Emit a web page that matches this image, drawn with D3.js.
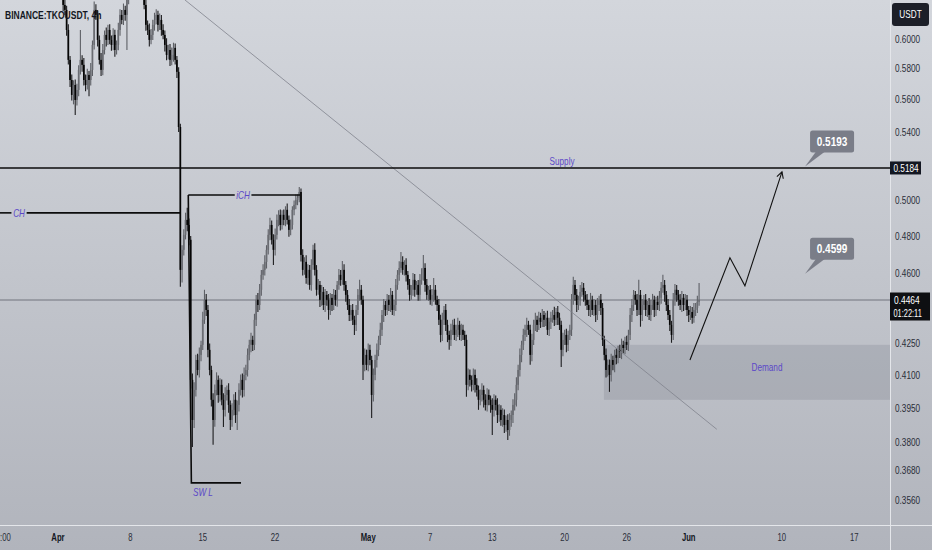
<!DOCTYPE html>
<html><head><meta charset="utf-8">
<script src="https://cdn.jsdelivr.net/npm/d3@7"></script>
<style>html,body{margin:0;padding:0;overflow:hidden;background:#c5c8cf}svg{display:block}</style>
</head><body><svg id="c" width="932" height="550"></svg>
<script>
// ---------------- DATA ----------------
const symbolTitle = "BINANCE:TKOUSDT, 4h";
const quoteCurrency = "USDT";
const firstCandleTime = Date.UTC(2024, 3, 1, 0, 0);   // 1 Apr 2024 00:00 UTC
const candleHours = 4;
const firstOpen = .6310;
// 4h closes, 1 Apr -> 2 Jun
const closes = [
.6378,.6450,.6342,.6235,.6200,.6061,.5859,.5727,.5631,.5695,
.5599,.5663,.5793,.5859,.5826,.5727,.5695,.5760,.5727,.5793,
.5959,.6200,.6165,.5993,.5859,.5793,.5925,.6027,.5993,.6061,
.5993,.5959,.6027,.5925,.5959,.6061,.6165,.6130,.6200,.6165,
.6270,.6342,.6414,.6450,.6487,.6450,.6487,.6414,.6378,.6342,
.6235,.6096,.6061,.5993,.6027,.6096,.6130,.6165,.6096,.6130,
.6061,.6027,.5959,.5892,.5925,.5859,.5892,.5939,.5859,.5780,
.5430,.4619,.4725,.4806,.4888,.4860,.4779,.4078,.3897,.4032,
.4171,.4124,.4195,.4243,.4365,.4465,.4414,.4219,.4124,.3987,
.3897,.4032,.4078,.4009,.4055,.3987,.3942,.4009,.4032,.3964,
.3897,.3942,.3987,.3919,.3964,.4032,.4078,.4032,.4101,.4124,
.4195,.4243,.4267,.4243,.4365,.4465,.4439,.4516,.4593,.4619,
.4661,.4725,.4806,.4860,.4779,.4725,.4806,.4888,.4916,.4860,
.4916,.4888,.4944,.4888,.4833,.4860,.4944,.4972,.5000,.5011,
.5045,.4698,.4619,.4661,.4577,.4619,.4541,.4645,.4725,.4619,
.4516,.4541,.4465,.4505,.4439,.4490,.4465,.4414,.4475,.4439,
.4490,.4465,.4541,.4593,.4567,.4619,.4541,.4490,.4439,.4389,
.4414,.4365,.4340,.4414,.4490,.4516,.4465,.4148,.4195,.4148,
.4219,.4171,.4009,.4101,.4171,.4219,.4267,.4316,.4389,.4439,
.4414,.4465,.4439,.4490,.4414,.4439,.4541,.4593,.4629,.4661,
.4619,.4645,.4593,.4541,.4490,.4516,.4567,.4516,.4541,.4490,
.4567,.4593,.4629,.4541,.4490,.4516,.4465,.4490,.4516,.4465,
.4439,.4365,.4291,.4365,.4414,.4340,.4291,.4267,.4316,.4340,
.4291,.4316,.4340,.4291,.4316,.4291,.4267,.4055,.4101,.4078,
.4055,.4101,.4055,.4032,.3987,.4009,.4032,.3987,.3964,.4009,
.3987,.3964,.3942,.3987,.3964,.3919,.3942,.3897,.3919,.3875,
.3897,.3853,.3897,.3919,.3964,.3987,.4055,.4124,.4195,.4243,
.4291,.4316,.4340,.4316,.4195,.4267,.4340,.4365,.4340,.4375,
.4355,.4389,.4365,.4375,.4316,.4355,.4375,.4389,.4365,.4404,
.4375,.4340,.4219,.4267,.4291,.4243,.4291,.4316,.4465,.4541,
.4490,.4439,.4465,.4505,.4526,.4490,.4465,.4439,.4414,.4465,
.4414,.4439,.4389,.4439,.4465,.4424,.4267,.4195,.4124,.4148,
.4101,.4171,.4148,.4195,.4181,.4219,.4210,.4243,.4228,.4257,
.4243,.4291,.4389,.4439,.4490,.4465,.4414,.4490,.4389,.4439,
.4465,.4414,.4439,.4389,.4439,.4465,.4414,.4455,.4439,.4475,
.4526,.4541,.4490,.4439,.4389,.4340,.4291,.4465,.4516,.4490,
.4465,.4439,.4475,.4439,.4465,.4414,.4389,.4404,.4375,.4414,
.4424,.4455,.4464];
// wick above body / below body, in 0.0001 price units
const wickUp = [
40,30,50,35,45,30,40,25,35,30, 35,40,30,202,30,45,35,40,25,45,
30,60,40,35,30,45,40,30,50,35, 40,30,45,35,30,50,40,35,45,30,
50,40,35,45,30,40,35,50,40,45, 40,35,30,45,40,35,50,40,30,45,
35,40,30,45,35,40,50,35,30,25, 30,20,25,30,40,67,35,20,30,35,
25,30,35,20,40,51,30,25,30,20, 30,25,35,20,30,25,30,35,20,30,
20,30,25,35,20,30,25,30,35,25, 30,25,35,20,30,25,35,30,25,30,
35,25,30,40,25,30,35,30,25,30, 25,30,20,35,25,30,20,25,30,20,
29,20,30,25,35,30,25,30,27,35, 25,30,20,35,25,30,20,30,25,20,
30,25,20,30,25,47,30,20,25,30, 25,30,20,25,30,51,25,20,30,25,
30,25,20,30,25,30,20,35,25,30, 20,30,25,35,20,25,30,25,35,53,
30,25,35,20,30,25,35,30,20,25, 30,35,69,25,30,20,25,30,61,25,
20,30,25,35,20,30,25,20,30,25, 30,25,35,20,30,25,20,25,30,25,
20,30,25,30,20,25,30,20,25,30, 25,20,30,25,20,30,25,20,30,25,
20,25,30,20,25,30,35,25,30,20, 30,25,35,20,25,30,25,35,20,30,
25,30,20,25,35,20,30,25,41,20, 30,25,20,35,25,30,20,25,30,42,
25,30,20,35,30,25,20,30,25,35, 20,30,25,35,20,30,25,20,30,25,
25,30,20,25,30,20,25,30,20,25, 30,25,35,30,25,20,30,77,25,30,
25,30,20,35,25,30,20,25,30,35, 30,52,25,20,30,25,20,35,30,25,
25,30,35,20,30,25,20,30,25,35, 25,30,87];
const wickDown = [
35,40,30,45,35,40,30,45,35,60, 94,35,40,30,45,35,40,30,105,35,
40,30,35,45,30,40,35,30,45,35, 30,40,35,45,30,35,40,30,35,40,
240,30,40,35,30,40,35,30,45,35, 30,40,35,45,30,35,40,30,45,35,
40,30,45,35,30,40,35,45,30,40, 30,87,66,30,25,35,30,40,118,35,
30,25,35,30,25,20,30,35,25,30, 108,30,25,35,30,25,76,30,25,35,
44,30,25,35,66,30,25,35,30,25, 30,25,35,30,25,30,35,25,30,25,
30,35,25,30,25,80,30,25,35,30, 25,30,35,25,38,30,25,30,25,30,
25,35,30,25,30,35,25,30,25,30, 30,25,36,30,25,35,30,49,25,30,
25,30,35,25,30,25,30,35,25,30, 30,25,49,30,25,30,25,70,30,25,
30,25,103,30,25,35,30,25,30,35, 30,25,30,35,25,29,30,25,30,25,
25,30,35,25,30,25,30,35,25,30, 30,25,30,35,25,30,25,30,35,25,
30,25,35,30,25,30,35,48,30,25, 25,30,35,25,30,25,30,54,25,30,
30,25,35,30,45,25,30,35,25,30, 25,35,111,30,25,35,30,25,30,35,
30,43,25,30,35,25,30,25,30,35, 25,30,35,25,47,30,25,30,35,25,
30,25,35,30,25,30,35,25,30,25, 35,25,81,30,25,35,30,25,30,25,
30,35,25,30,25,35,30,25,30,35, 25,30,35,25,30,35,30,25,35,30,
78,30,25,35,30,25,30,35,25,30, 25,30,25,35,30,25,30,25,58,30,
25,30,35,25,30,25,35,30,25,30, 30,25,35,30,25,30,38,25,30,35,
30,25,35,30,25,30,35,25,30,25, 30,25,20];

const priceTicks = [0.6000,0.5800,0.5600,0.5400,0.5000,0.4800,0.4600,0.4250,0.4100,0.3950,0.3800,0.3680,0.3560];
const timeTickDates = [Date.UTC(2024,2,26,12),Date.UTC(2024,3,1),Date.UTC(2024,3,8),Date.UTC(2024,3,15),Date.UTC(2024,3,22),
  Date.UTC(2024,4,1),Date.UTC(2024,4,7),Date.UTC(2024,4,13),Date.UTC(2024,4,20),Date.UTC(2024,4,26),
  Date.UTC(2024,5,1),Date.UTC(2024,5,10),Date.UTC(2024,5,17)];
const timeTickLabels = ["12:00","Apr","8","15","22","May","7","13","20","26","Jun","10","17"];
const monthLabels = ["Apr","May","Jun"];

const supplyPrice = 0.5184;
const lastPrice = 0.4464;
const countdown = "01:22:11";
// drawings: [candle index, price]
const chLine = [[-40, 0.4927],[70.8, 0.4927]];
const ichLine = [[75.6, 0.5028],[140.4, 0.5028]];
const swlLine = [[75.6, 0.5028],[77.4, 0.3629],[106.2, 0.3629]];
const trendLine = [[73.7, 0.6270],[382.3, 0.3856]];
const demandZone = {startIndex: 316.8, top: 0.4243, bottom: 0.3987};
const projection = [[366.7, 0.4171],[389.9, 0.4683],[398.6, 0.4536],[420.1, 0.5161]];
const targets = [[433.5, 0.5193],[433.5, 0.4599]];
const textNotes = [
  {text:"CH",     idx:-22.6, price:0.4927, italic:true},
  {text:"iCH",    idx:107.4, price:0.5028, italic:true},
  {text:"SW L",   idx:84.1,  price:0.3592, italic:true},
  {text:"Supply", idx:292.5, price:0.5184, italic:false, above:true},
  {text:"Demand", idx:411.4, price:0.4137, italic:false}
];

// ---------------- LAYOUT ----------------
const W = 932, H = 550, plotW = 890, plotH = 525;
const FONT = "'Liberation Sans', Arial, sans-serif";
const LABEL = "#5b48c8";
const svg = d3.select("#c");
const defs = svg.append("defs");
const g0 = defs.append("linearGradient").attr("id","bg").attr("x1",0).attr("y1",0).attr("x2",0).attr("y2",1);
g0.append("stop").attr("offset","0%").attr("stop-color","#d3d6dc");
g0.append("stop").attr("offset","100%").attr("stop-color","#b1b4bc");
defs.append("clipPath").attr("id","plotclip").append("rect").attr("width",plotW).attr("height",plotH);
svg.append("rect").attr("width",W).attr("height",H).attr("fill","url(#bg)");

const candleMs = candleHours*3600*1000;
const tOf = i => new Date(firstCandleTime + i*candleMs);
const xS = d3.scaleUtc().domain([new Date(Date.UTC(2024,2,26,9,24)), new Date(Date.UTC(2024,5,20,11,8))]).range([0, plotW]);
const yS = d3.scaleLog().domain([0.6270, 0.3460]).range([0, plotH]);
const px = p => [xS(tOf(p[0])), yS(p[1])];

function squeeze(sel, k){
  sel.each(function(){
    const w = this.getComputedTextLength();
    if (w > 0){ this.setAttribute("textLength",(w*k).toFixed(1)); this.setAttribute("lengthAdjust","spacingAndGlyphs"); }
  });
}

const plot = svg.append("g").attr("clip-path","url(#plotclip)");

// demand zone
const dz0 = xS(tOf(demandZone.startIndex));
plot.append("rect").attr("x",dz0).attr("y",yS(demandZone.top)).attr("width",plotW-dz0)
  .attr("height",yS(demandZone.bottom)-yS(demandZone.top)).attr("fill","#6e7280").attr("fill-opacity",0.22);

// last price line
plot.append("line").attr("x1",0).attr("x2",plotW).attr("y1",yS(lastPrice)).attr("y2",yS(lastPrice))
  .attr("stroke","#5d606b").attr("stroke-width",0.8);

// candles
const candles = closes.map((c,i)=>{
  const o = i===0 ? firstOpen : closes[i-1];
  return {t:tOf(i), o, c, h:Math.max(o,c)+wickUp[i]/1e4, l:Math.min(o,c)-wickDown[i]/1e4};
});
const cg = plot.append("g");
cg.selectAll("line").data(candles).join("line")
  .attr("x1",d=>xS(d.t)).attr("x2",d=>xS(d.t)).attr("y1",d=>yS(d.h)).attr("y2",d=>yS(d.l))
  .attr("stroke",d=>d.c>=d.o?"#5e6066":"#1e1e20").attr("stroke-width",1.1);
cg.selectAll("rect").data(candles).join("rect")
  .attr("x",d=>xS(d.t)-0.85).attr("width",1.7)
  .attr("y",d=>yS(Math.max(d.o,d.c)))
  .attr("height",d=>Math.max(0.8, yS(Math.min(d.o,d.c))-yS(Math.max(d.o,d.c))))
  .attr("fill",d=>d.c>=d.o?"#6a6c72":"#050505");

// trend line
const line = d3.line().x(d=>px(d)[0]).y(d=>px(d)[1]);
plot.append("path").attr("d",line(trendLine)).attr("fill","none").attr("stroke","#80838d").attr("stroke-width",0.8);

// supply line
plot.append("line").attr("x1",0).attr("x2",plotW).attr("y1",yS(supplyPrice)).attr("y2",yS(supplyPrice))
  .attr("stroke","#0b0b0b").attr("stroke-width",1.6);

// text notes
const notes = plot.append("g");
const noteEls = textNotes.map(n=>{
  const [x,y] = px([n.idx,n.price]);
  const t = notes.append("text").attr("x",x).attr("y", n.above ? y-3 : y).attr("dy", n.above ? 0 : "0.35em")
    .attr("text-anchor","middle").attr("font-family",FONT).attr("font-size",10.5)
    .attr("font-style", n.italic?"italic":"normal").attr("fill",LABEL).text(n.text);
  squeeze(t, 0.78);
  return {n, x, w: t.node().getComputedTextLength()*0.78};
});
function gapLine(pts, gapX, gapW){
  const [a,b] = [px(pts[0]), px(pts[1])];
  const segs = [[a[0], gapX-gapW/2-3],[gapX+gapW/2+3, b[0]]];
  segs.forEach(s=>plot.append("line").attr("x1",s[0]).attr("x2",s[1]).attr("y1",a[1]).attr("y2",b[1])
    .attr("stroke","#0b0b0b").attr("stroke-width",1.6));
}
gapLine(chLine, noteEls[0].x, noteEls[0].w);
gapLine(ichLine, noteEls[1].x, noteEls[1].w);
plot.append("path").attr("d",line(swlLine)).attr("fill","none").attr("stroke","#0b0b0b").attr("stroke-width",1.6);

// projection path with arrow
plot.append("path").attr("d",line(projection)).attr("fill","none").attr("stroke","#111").attr("stroke-width",1.1);
{
  const p1 = px(projection[projection.length-2]), p2 = px(projection[projection.length-1]);
  const ang = Math.atan2(p2[1]-p1[1], p2[0]-p1[0]);
  const L = 7, s = 0.5;
  const a1 = [p2[0]-L*Math.cos(ang-s), p2[1]-L*Math.sin(ang-s)];
  const a2 = [p2[0]-L*Math.cos(ang+s), p2[1]-L*Math.sin(ang+s)];
  plot.append("path").attr("d",`M${a1}L${p2}L${a2}`).attr("fill","none").attr("stroke","#111").attr("stroke-width",1.1);
}

// target callouts
targets.forEach(tg=>{
  const [ax, ay] = px(tg);
  const bx = ax+5, bw = 44, bh = 22, by = ay-14-bh;
  const gg = svg.append("g");
  gg.append("path").attr("d",`M${ax},${ay}L${bx+6},${by+bh-1}L${bx+15},${by+bh-1}Z`).attr("fill","#7a7d88");
  gg.append("rect").attr("x",bx).attr("y",by).attr("width",bw).attr("height",bh).attr("rx",2.5).attr("fill","#7a7d88");
  const t = gg.append("text").attr("x",bx+bw/2).attr("y",by+bh/2).attr("dy","0.36em").attr("text-anchor","middle")
    .attr("font-family",FONT).attr("font-weight","bold").attr("font-size",12.5).attr("fill","#fff").text(tg[1].toFixed(4));
  squeeze(t, 0.8);
});

// title
const title = svg.append("text").attr("x",5).attr("y",19).attr("font-family",FONT).attr("font-size",11.5)
  .attr("font-weight","bold").attr("fill","#131722").text(symbolTitle);
squeeze(title, 0.74);

// axes separators
svg.append("line").attr("x1",plotW+0.5).attr("x2",plotW+0.5).attr("y1",0).attr("y2",H).attr("stroke","#e4e6ea").attr("stroke-width",1);
svg.append("line").attr("x1",0).attr("x2",W).attr("y1",plotH+0.5).attr("y2",plotH+0.5).attr("stroke","#e4e6ea").attr("stroke-width",1);

// right price axis
const ya = svg.append("g");
ya.selectAll("text").data(priceTicks).join("text")
  .attr("x",895).attr("y",d=>yS(d)).attr("dy","0.35em").attr("font-family",FONT).attr("font-size",10.5)
  .attr("fill","#2a2e39").text(d=>d.toFixed(4)).call(squeeze, 0.78);

// currency box
svg.append("rect").attr("x",892).attr("y",3).attr("width",37).attr("height",23).attr("rx",3).attr("fill","#1c1f28");
svg.append("text").attr("x",910.5).attr("y",14.5).attr("dy","0.35em").attr("text-anchor","middle").attr("font-family",FONT)
  .attr("font-size",10.5).attr("fill","#fff").text(quoteCurrency).call(squeeze,0.78);

// supply price tag
const sy = yS(supplyPrice);
svg.append("rect").attr("x",890).attr("y",sy-6.5).attr("width",31).attr("height",13).attr("fill","#131722");
svg.append("text").attr("x",893.5).attr("y",sy).attr("dy","0.35em").attr("font-family",FONT).attr("font-size",10.5)
  .attr("fill","#fff").text(supplyPrice.toFixed(4)).call(squeeze,0.78);
// last price tag
const ly = yS(lastPrice);
svg.append("rect").attr("x",890).attr("y",ly-7.5).attr("width",40).attr("height",28).attr("fill","#0e0f12");
svg.append("text").attr("x",894).attr("y",ly).attr("dy","0.35em").attr("font-family",FONT).attr("font-size",10.5)
  .attr("fill","#fff").text(lastPrice.toFixed(4)).call(squeeze,0.8);
svg.append("text").attr("x",893.5).attr("y",ly+13.5).attr("dy","0.35em").attr("font-family",FONT).attr("font-size",10)
  .attr("fill","#fff").text(countdown).call(squeeze,0.74);

// time axis
const xa = svg.append("g");
xa.selectAll("text").data(timeTickDates).join("text")
  .attr("x",d=>xS(new Date(d))).attr("y",537).attr("dy","0.35em").attr("text-anchor","middle")
  .attr("font-family",FONT).attr("font-size",11)
  .attr("font-weight",(d,i)=>monthLabels.includes(timeTickLabels[i])?"bold":"normal")
  .attr("fill",(d,i)=>monthLabels.includes(timeTickLabels[i])?"#131722":"#2a2e39")
  .text((d,i)=>timeTickLabels[i]).call(squeeze,0.7);
</script></body></html>
